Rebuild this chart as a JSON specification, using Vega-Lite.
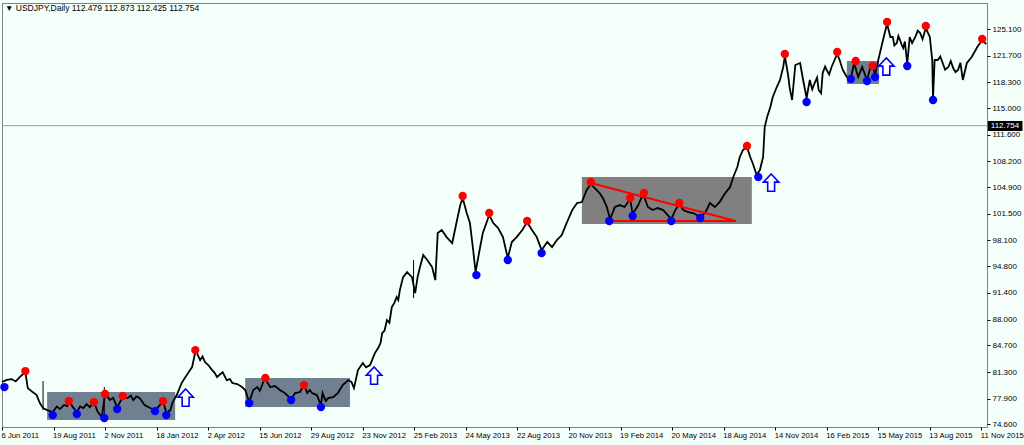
{
  "$schema": "https://vega.github.io/schema/vega-lite/v6.json",
  "width": 985,
  "height": 424,
  "autosize": {"type": "none"},
  "padding": {"left": 2, "top": 3, "right": 37, "bottom": 18},
  "background": "#F5FFFA",
  "config": {"view": {"stroke": "#808080", "fill": "#F5FFFA"}, "font": "Liberation Sans"},
  "title": {"text": "▼  USDJPY,Daily  112.479 112.873 112.425 112.754", "anchor": "start", "frame": "group", "offset": -9, "dx": 3, "fontSize": 8.5, "fontWeight": "normal", "font": "Liberation Sans", "color": "#000000"},
  "resolve": {"scale": {"color": "independent"}},
  "datasets": {
    "prices": [
      {"bar":0,"price":80.02},{"bar":6,"price":80.30},{"bar":12,"price":80.40},{"bar":17,"price":80.10},{"bar":22,"price":80.66},{"bar":29,"price":81.29},{"bar":32,"price":79.25},{"bar":38,"price":78.74},{"bar":43,"price":78.36},{"bar":47,"price":77.34},{"bar":51,"price":76.70},{"bar":56,"price":76.44},{"bar":63,"price":76.19},{"bar":68,"price":76.90},{"bar":72,"price":76.57},{"bar":77,"price":77.10},{"bar":81,"price":76.96},{"bar":83,"price":77.59},{"bar":88,"price":76.82},{"bar":93,"price":76.19},{"bar":97,"price":76.90},{"bar":101,"price":76.70},{"bar":105,"price":77.20},{"bar":109,"price":76.82},{"bar":114,"price":77.46},{"bar":119,"price":76.19},{"bar":124,"price":75.55},{"bar":128,"price":78.61},{"bar":134,"price":77.72},{"bar":138,"price":78.00},{"bar":143,"price":76.82},{"bar":150,"price":78.10},{"bar":156,"price":77.97},{"bar":160,"price":78.30},{"bar":163,"price":77.72},{"bar":167,"price":78.20},{"bar":171,"price":77.97},{"bar":177,"price":77.08},{"bar":184,"price":76.70},{"bar":190,"price":76.44},{"bar":196,"price":77.08},{"bar":200,"price":77.59},{"bar":204,"price":76.06},{"bar":209,"price":76.44},{"bar":212,"price":77.46},{"bar":217,"price":78.36},{"bar":223,"price":79.89},{"bar":227,"price":80.53},{"bar":231,"price":81.16},{"bar":236,"price":81.93},{"bar":240,"price":83.85},{"bar":242,"price":83.72},{"bar":246,"price":82.82},{"bar":249,"price":83.30},{"bar":252,"price":82.57},{"bar":256,"price":82.19},{"bar":261,"price":81.55},{"bar":264,"price":81.20},{"bar":267,"price":80.66},{"bar":274,"price":81.29},{"bar":279,"price":80.27},{"bar":283,"price":80.40},{"bar":286,"price":79.89},{"bar":292,"price":79.76},{"bar":298,"price":79.38},{"bar":302,"price":79.00},{"bar":307,"price":77.46},{"bar":312,"price":79.00},{"bar":317,"price":79.38},{"bar":320,"price":78.90},{"bar":323,"price":79.63},{"bar":326,"price":80.53},{"bar":333,"price":79.38},{"bar":339,"price":79.51},{"bar":345,"price":79.00},{"bar":351,"price":78.61},{"bar":359,"price":77.85},{"bar":364,"price":78.61},{"bar":370,"price":78.74},{"bar":375,"price":79.63},{"bar":379,"price":78.61},{"bar":382,"price":79.00},{"bar":385,"price":78.61},{"bar":391,"price":78.36},{"bar":396,"price":77.08},{"bar":398,"price":78.61},{"bar":402,"price":77.60},{"bar":405,"price":77.97},{"bar":411,"price":78.10},{"bar":417,"price":78.61},{"bar":423,"price":79.63},{"bar":430,"price":80.27},{"bar":434,"price":80.02},{"bar":437,"price":79.25},{"bar":442,"price":81.55},{"bar":448,"price":82.44},{"bar":452,"price":81.90},{"bar":457,"price":82.19},{"bar":463,"price":83.72},{"bar":467,"price":84.36},{"bar":470,"price":85.00},{"bar":472,"price":86.27},{"bar":475,"price":86.60},{"bar":478,"price":87.93},{"bar":481,"price":87.60},{"bar":484,"price":89.59},{"bar":487,"price":90.10},{"bar":490,"price":90.87},{"bar":492,"price":90.50},{"bar":494,"price":91.76},{"bar":498,"price":93.42},{"bar":503,"price":94.06},{"bar":509,"price":93.42},{"bar":513,"price":91.38},{"bar":516,"price":93.42},{"bar":519,"price":94.70},{"bar":523,"price":96.24},{"bar":528,"price":95.60},{"bar":534,"price":94.70},{"bar":538,"price":93.04},{"bar":541,"price":99.05},{"bar":546,"price":99.43},{"bar":552,"price":98.53},{"bar":559,"price":97.77},{"bar":565,"price":100.71},{"bar":569,"price":102.62},{"bar":572,"price":103.52},{"bar":577,"price":101.60},{"bar":581,"price":100.32},{"bar":585,"price":96.88},{"bar":588,"price":94.07},{"bar":593,"price":96.88},{"bar":597,"price":99.05},{"bar":605,"price":101.35},{"bar":610,"price":100.32},{"bar":616,"price":99.69},{"bar":622,"price":98.53},{"bar":628,"price":95.85},{"bar":633,"price":97.90},{"bar":639,"price":98.53},{"bar":646,"price":99.43},{"bar":652,"price":100.45},{"bar":658,"price":99.43},{"bar":664,"price":98.53},{"bar":670,"price":96.88},{"bar":677,"price":97.90},{"bar":683,"price":97.26},{"bar":689,"price":98.15},{"bar":695,"price":98.79},{"bar":701,"price":100.32},{"bar":708,"price":101.98},{"bar":714,"price":102.88},{"bar":720,"price":103.00},{"bar":726,"price":104.54},{"bar":731,"price":105.30},{"bar":736,"price":104.79},{"bar":742,"price":104.15},{"bar":746,"price":103.52},{"bar":751,"price":102.37},{"bar":755,"price":100.83},{"bar":761,"price":102.37},{"bar":767,"price":102.62},{"bar":773,"price":102.37},{"bar":780,"price":103.39},{"bar":783,"price":101.47},{"bar":790,"price":102.62},{"bar":796,"price":104.03},{"bar":802,"price":102.37},{"bar":808,"price":101.98},{"bar":814,"price":102.24},{"bar":821,"price":101.98},{"bar":831,"price":100.83},{"bar":836,"price":101.98},{"bar":841,"price":102.75},{"bar":846,"price":101.98},{"bar":852,"price":101.73},{"bar":858,"price":101.60},{"bar":867,"price":101.09},{"bar":873,"price":101.60},{"bar":879,"price":102.88},{"bar":885,"price":102.37},{"bar":891,"price":103.00},{"bar":898,"price":104.15},{"bar":904,"price":104.92},{"bar":908,"price":106.20},{"bar":913,"price":107.47},{"bar":916,"price":108.75},{"bar":920,"price":109.65},{"bar":925,"price":110.03},{"bar":929,"price":108.75},{"bar":932,"price":107.99},{"bar":937,"price":106.46},{"bar":941,"price":107.09},{"bar":945,"price":108.75},{"bar":947,"price":112.58},{"bar":950,"price":113.86},{"bar":954,"price":115.14},{"bar":957,"price":116.42},{"bar":962,"price":117.69},{"bar":966,"price":118.59},{"bar":970,"price":120.25},{"bar":972,"price":121.65},{"bar":976,"price":119.23},{"bar":978,"price":117.57},{"bar":981,"price":116.03},{"bar":985,"price":120.50},{"bar":991,"price":120.76},{"bar":994,"price":118.97},{"bar":999,"price":116.29},{"bar":1003,"price":118.59},{"bar":1006,"price":117.40},{"bar":1009,"price":118.20},{"bar":1012,"price":118.90},{"bar":1014,"price":117.31},{"bar":1017,"price":116.90},{"bar":1019,"price":119.48},{"bar":1022,"price":120.30},{"bar":1024,"price":119.86},{"bar":1027,"price":119.30},{"bar":1030,"price":120.25},{"bar":1037,"price":121.91},{"bar":1040,"price":121.14},{"bar":1044,"price":119.86},{"bar":1049,"price":118.97},{"bar":1054,"price":118.84},{"bar":1058,"price":120.76},{"bar":1063,"price":118.97},{"bar":1068,"price":120.25},{"bar":1074,"price":118.59},{"bar":1078,"price":120.12},{"bar":1081,"price":120.37},{"bar":1084,"price":119.23},{"bar":1088,"price":121.14},{"bar":1093,"price":123.31},{"bar":1096,"price":124.59},{"bar":1099,"price":125.74},{"bar":1103,"price":124.08},{"bar":1106,"price":124.08},{"bar":1108,"price":123.00},{"bar":1111,"price":123.31},{"bar":1113,"price":124.20},{"bar":1115,"price":123.69},{"bar":1117,"price":123.10},{"bar":1119,"price":122.67},{"bar":1121,"price":123.50},{"bar":1124,"price":120.63},{"bar":1127,"price":124.08},{"bar":1130,"price":123.30},{"bar":1134,"price":124.08},{"bar":1137,"price":124.90},{"bar":1140,"price":124.59},{"bar":1143,"price":123.80},{"bar":1147,"price":125.22},{"bar":1152,"price":124.08},{"bar":1155,"price":121.14},{"bar":1156,"price":116.29},{"bar":1158,"price":121.14},{"bar":1162,"price":121.14},{"bar":1165,"price":121.60},{"bar":1168,"price":120.76},{"bar":1171,"price":119.90},{"bar":1175,"price":120.25},{"bar":1178,"price":121.00},{"bar":1181,"price":120.12},{"bar":1184,"price":119.60},{"bar":1187,"price":119.86},{"bar":1190,"price":120.80},{"bar":1193,"price":118.59},{"bar":1198,"price":120.76},{"bar":1204,"price":121.52},{"bar":1211,"price":122.80},{"bar":1217,"price":123.69},{"bar":1222,"price":123.18}
    ],
    "spikes": [
      {"bar":51,"price":80.15,"price2":76.44},
      {"bar":127,"price":79.38,"price2":75.42},
      {"bar":511,"price":95.60,"price2":90.75}
    ],
    "boxes": [
      {"pattern":"range","bar":56,"bar2":215,"price":78.74,"price2":75.16},
      {"pattern":"range","bar":302,"bar2":432,"price":80.53,"price2":76.83},
      {"pattern":"triangle","bar":720,"bar2":931,"price":106.20,"price2":100.20},
      {"pattern":"range","bar":1049,"bar2":1089,"price":121.01,"price2":118.08}
    ],
    "trend": [
      {"line":"upper","bar":731,"price":105.43},
      {"line":"upper","bar":911,"price":100.58},
      {"line":"lower","bar":750,"price":100.58},
      {"line":"lower","bar":911,"price":100.58}
    ],
    "pivots": [
      {"type":"high","bar":29,"price":81.42},{"type":"high","bar":83,"price":77.59},{"type":"high","bar":114,"price":77.46},{"type":"high","bar":128,"price":78.49},{"type":"high","bar":150,"price":78.23},{"type":"high","bar":200,"price":77.59},{"type":"high","bar":240,"price":84.10},{"type":"high","bar":327,"price":80.53},{"type":"high","bar":375,"price":79.63},{"type":"high","bar":572,"price":103.77},{"type":"high","bar":605,"price":101.60},{"type":"high","bar":652,"price":100.58},{"type":"high","bar":731,"price":105.56},{"type":"high","bar":780,"price":103.52},{"type":"high","bar":797,"price":104.16},{"type":"high","bar":841,"price":102.88},{"type":"high","bar":925,"price":110.16},{"type":"high","bar":972,"price":121.91},{"type":"high","bar":1037,"price":122.16},{"type":"high","bar":1060,"price":121.01},{"type":"high","bar":1081,"price":120.37},{"type":"high","bar":1099,"price":126.00},{"type":"high","bar":1147,"price":125.48},{"type":"high","bar":1217,"price":123.82},
      {"type":"low","bar":3,"price":79.38},{"type":"low","bar":63,"price":75.80},{"type":"low","bar":93,"price":75.93},{"type":"low","bar":127,"price":75.42},{"type":"low","bar":143,"price":76.57},{"type":"low","bar":190,"price":76.31},{"type":"low","bar":204,"price":75.80},{"type":"low","bar":307,"price":77.33},{"type":"low","bar":359,"price":77.72},{"type":"low","bar":396,"price":76.82},{"type":"low","bar":589,"price":93.68},{"type":"low","bar":628,"price":95.60},{"type":"low","bar":670,"price":96.49},{"type":"low","bar":754,"price":100.58},{"type":"low","bar":783,"price":101.22},{"type":"low","bar":831,"price":100.58},{"type":"low","bar":867,"price":100.96},{"type":"low","bar":939,"price":106.20},{"type":"low","bar":999,"price":115.78},{"type":"low","bar":1054,"price":118.71},{"type":"low","bar":1074,"price":118.46},{"type":"low","bar":1084,"price":118.97},{"type":"low","bar":1124,"price":120.37},{"type":"low","bar":1156,"price":116.03}
    ],
    "arrows": [
      {"bar":228,"price":77.97},{"bar":462,"price":80.78},{"bar":955,"price":105.43},{"bar":1098,"price":120.25}
    ],
    "tag": [{"bar":1224,"bar2":1267,"price":113.35,"price2":112.07,"label":"112.754","level":112.754}]
  },
  "encoding": {
    "x": {"field": "bar", "type": "quantitative", "title": null,
      "scale": {"domain": [0, 1223], "nice": false, "zero": false},
      "axis": {"values": [0,64,128,192,256,320,384,448,512,576,640,704,768,832,896,960,1024,1088,1152,1216],
        "labelExpr": "['6 Jun 2011','19 Aug 2011','2 Nov 2011','18 Jan 2012','2 Apr 2012','15 Jun 2012','29 Aug 2012','23 Nov 2012','25 Feb 2013','24 May 2013','22 Aug 2013','20 Nov 2013','19 Feb 2014','20 May 2014','18 Aug 2014','14 Nov 2014','16 Feb 2015','15 May 2015','13 Aug 2015','11 Nov 2015'][round(datum.value/64)]",
        "labelAlign": "left", "labelPadding": 1, "labelOffset": -1, "labelFlush": false, "labelOverlap": false, "labelBound": false,
        "labelFontSize": 7.7, "labelFont": "Liberation Sans", "labelColor": "#000000",
        "tickSize": 3, "tickColor": "#000000", "domain": false, "grid": false}},
    "y": {"field": "price", "type": "quantitative", "title": null,
      "scale": {"domain": [74.28, 128.42], "nice": false, "zero": false},
      "axis": {"orient": "right", "values": [74.6,77.9,81.3,84.7,88.0,91.4,94.8,98.1,101.5,104.9,108.2,111.6,115.0,118.3,121.7,125.1],
        "format": ".3f", "labelFontSize": 8, "labelFont": "Liberation Sans", "labelColor": "#000000", "labelPadding": 2,
        "tickSize": 3, "tickColor": "#000000", "domain": false, "grid": false}}
  },
  "layer": [
    {"data": {"name": "boxes"}, "mark": {"type": "rect", "opacity": 1},
      "encoding": {"x2": {"field": "bar2"}, "y2": {"field": "price2"},
        "color": {"field": "pattern", "type": "nominal", "scale": {"domain": ["range","triangle"], "range": ["#708090","#808080"]}, "legend": null}}},
    {"data": {"name": "tag"}, "mark": {"type": "rule", "color": "#8C9BB0", "strokeWidth": 1},
      "encoding": {"x": {"datum": 0}, "x2": {"datum": 1223}, "y": {"field": "level", "type": "quantitative"}}},
    {"data": {"name": "prices"}, "mark": {"type": "line", "color": "#000000", "strokeWidth": 1.8, "strokeJoin": "miter"}},
    {"data": {"name": "spikes"}, "mark": {"type": "rule", "color": "#000000", "strokeWidth": 1},
      "encoding": {"y2": {"field": "price2"}}},
    {"data": {"name": "trend"}, "mark": {"type": "line", "color": "#FF0000", "strokeWidth": 2},
      "encoding": {"detail": {"field": "line", "type": "nominal"}}},
    {"data": {"name": "pivots"}, "mark": {"type": "circle", "size": 70, "opacity": 1},
      "encoding": {"color": {"field": "type", "type": "nominal", "scale": {"domain": ["high","low"], "range": ["#FF0000","#0000FF"]}, "legend": null}}},
    {"data": {"name": "arrows"}, "mark": {"type": "point", "shape": "M0,-1L0.85,-0.1L0.38,-0.1L0.38,0.9L-0.38,0.9L-0.38,-0.1L-0.85,-0.1Z", "size": 330, "filled": true, "fill": "#FFFFFF", "stroke": "#0000FF", "strokeWidth": 1.6, "opacity": 1}},
    {"data": {"name": "tag"}, "mark": {"type": "rect", "color": "#000000"},
      "encoding": {"x2": {"field": "bar2"}, "y2": {"field": "price2"}}},
    {"data": {"name": "tag"}, "mark": {"type": "text", "color": "#FFFFFF", "align": "left", "baseline": "middle", "fontSize": 8, "font": "Liberation Sans", "dx": 3},
      "encoding": {"y": {"field": "level", "type": "quantitative"}, "text": {"field": "label"}}}
  ]
}
